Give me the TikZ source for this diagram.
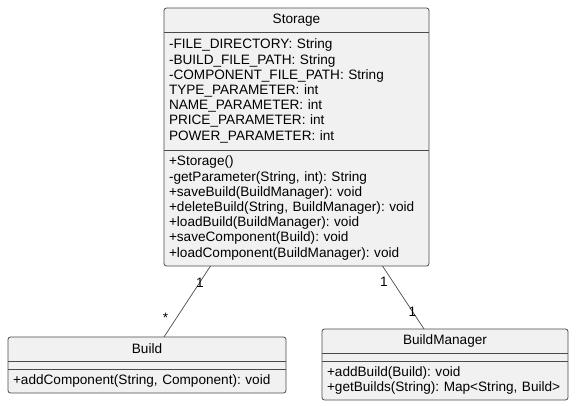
\documentclass[tikz,border=0pt]{standalone}
\usepackage{fontspec}
\setmainfont{Liberation Sans}
\usetikzlibrary{positioning}
\usetikzlibrary{backgrounds}
\definecolor{classfill}{HTML}{F1F1F1}
\definecolor{classline}{HTML}{4A4A4A}
\frenchspacing
\tikzset{class part/.style={text width=#1, inner xsep=5pt, inner ysep=0pt, outer sep=0pt, align=left, font=\fontsize{13.6}{15.2}\selectfont},
  class head/.style={class part=#1, align=center},
  class box/.style={draw=classline, fill=classfill, line width=0.8pt, rounded corners=2.5pt},
  class sep/.style={draw=classline, line width=0.8pt},
  mult/.style={inner sep=0pt, font=\fontsize{13.6}{15.2}\selectfont},}

\begin{document}
\begin{tikzpicture}[x=1pt,y=-1pt]
   \useasboundingbox (0,0) rectangle (579,406);

   \node[class head=255pt, minimum height=24pt, anchor=north west] (st) at (164,8) {Storage};
   \node[class part=255pt, minimum height=118pt] (sta) [below=0pt of st] {-FILE\_DIRECTORY: String\\-BUILD\_FILE\_PATH: String\\-COMPONENT\_FILE\_PATH: String\\TYPE\_PARAMETER: int\\NAME\_PARAMETER: int\\PRICE\_PARAMETER: int\\POWER\_PARAMETER: int};
   \node[class part=255pt, minimum height=116pt] (stm) [below=0pt of sta] {+Storage()\\-getParameter(String, int): String\\+saveBuild(BuildManager): void\\+deleteBuild(String, BuildManager): void\\+loadBuild(BuildManager): void\\+saveComponent(Build): void\\+loadComponent(BuildManager): void};

   \node[class head=268pt, minimum height=24pt, anchor=north west] (bd) at (8,337) {Build};
   \node[class part=268pt, minimum height=8pt] (bda) [below=0pt of bd] {};
   \node[class part=268pt, minimum height=24pt] (bdm) [below=0pt of bda] {+addComponent(String, Component): void};

   \node[class head=236pt, minimum height=24pt, anchor=north west] (bm) at (322,329) {BuildManager};
   \node[class part=236pt, minimum height=8pt] (bma) [below=0pt of bm] {};
   \node[class part=236pt, minimum height=39pt] (bmm) [below=0pt of bma] {+addBuild(Build): void\\+getBuilds(String): Map<String, Build>};

   \begin{scope}[on background layer]
     \foreach \a/\b in {st/stm, bd/bdm, bm/bmm}
       \draw[class box] (\a.north west) rectangle (\b.south east);
   \end{scope}
   \foreach \n in {sta, stm, bda, bdm, bma, bmm}
     \draw[class sep] (\n.north west) -- (\n.north east);

    \path[draw=classline, line width=0.7pt]
    ([xshift=46.5pt]stm.south west) edge node[mult, pos=0.23] (m1) {1} node[mult, pos=0.73, xshift=-11pt] (m2) {*} ([xshift=156pt]bd.north west)
    ([xshift=218.5pt]stm.south west) edge node[mult, pos=0.25, xshift=-9pt] (m3) {1} node[mult, pos=0.72] (m4) {1} ([xshift=102pt]bm.north west);
  \end{tikzpicture}
\end{document}
